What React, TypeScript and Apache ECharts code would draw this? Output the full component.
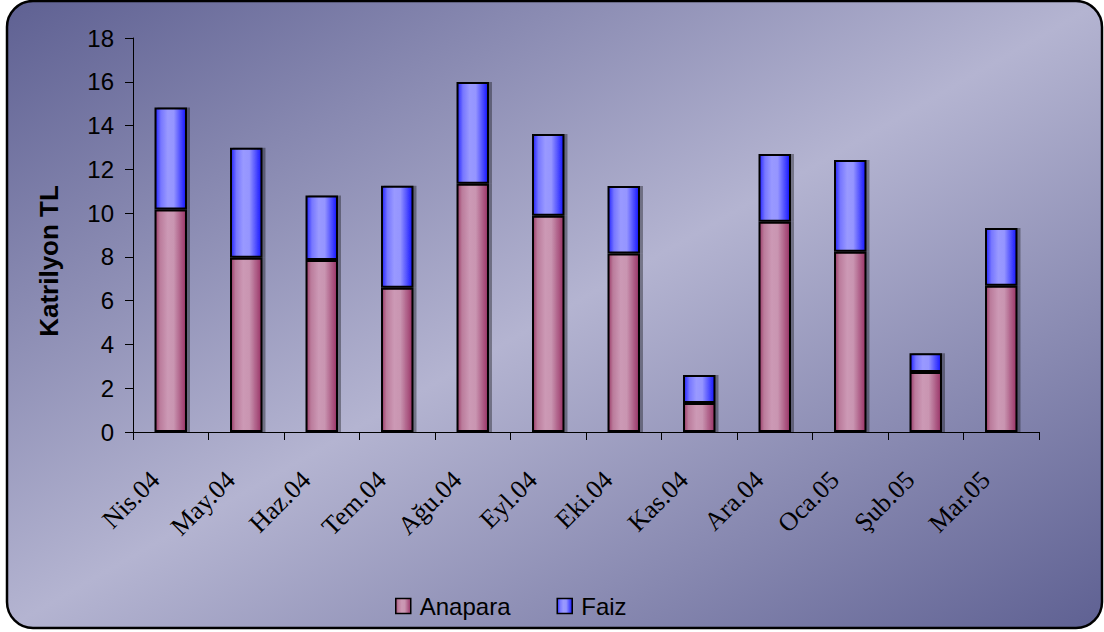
import React, { useEffect, useRef } from "react";
import * as echarts from "echarts";

const categories = ["Nis.04", "May.04", "Haz.04", "Tem.04", "Ağu.04", "Eyl.04", "Eki.04", "Kas.04", "Ara.04", "Oca.05", "Şub.05", "Mar.05"];
const anapara = [10.17, 7.96, 7.86, 6.59, 11.34, 9.88, 8.15, 1.32, 9.61, 8.24, 2.74, 6.68];
const faiz = [4.65, 5.03, 2.94, 4.66, 4.65, 3.73, 3.09, 1.28, 3.09, 4.19, 0.86, 2.64];
const yTicks = { min: 0, max: 18, interval: 2 };
const seriesNames = ["Anapara", "Faiz"];
const yAxisTitle = "Katrilyon TL";

const W = 1104;
const H = 632;

export default function App() {
  const ref = useRef<HTMLDivElement>(null);
  useEffect(() => {
    document.body.style.margin = "0";
    const chart = echarts.init(ref.current!, null, { renderer: "svg" });
    const pinkGrad = new echarts.graphic.LinearGradient(0, 0, 1, 0, [
      { offset: 0, color: "#9c3d69" },
      { offset: 0.15, color: "#bb7c9c" },
      { offset: 0.4, color: "#cc99b5" },
      { offset: 0.6, color: "#c995b1" },
      { offset: 1, color: "#993366" },
    ]);
    const blueGrad = new echarts.graphic.LinearGradient(0, 0, 1, 0, [
      { offset: 0, color: "#2525ff" },
      { offset: 0.18, color: "#7777ff" },
      { offset: 0.4, color: "#9999ff" },
      { offset: 0.6, color: "#9595ff" },
      { offset: 1, color: "#1414ff" },
    ]);
    const bgGrad = new echarts.graphic.LinearGradient(
      279.5, -160, 824.5, 792,
      [
        { offset: 0, color: "#5e6092" },
        { offset: 0.5, color: "#b4b4d1" },
        { offset: 1, color: "#5e6092" },
      ],
      true
    );
    const barStyle = (c: any) => ({
      color: c,
      borderColor: "#000",
      borderWidth: 2,
      shadowColor: "rgba(0,0,0,0.35)",
      shadowOffsetX: 3,
      shadowOffsetY: 0,
      shadowBlur: 0,
    });
    chart.setOption({
      animation: false,
      graphic: [
        {
          type: "rect",
          z: -10,
          silent: true,
          shape: { x: 7, y: 1, width: 1095, height: 627, r: 26 },
          style: { fill: bgGrad, stroke: "#000", lineWidth: 2.5 },
        },
        {
          type: "text",
          x: 49,
          y: 261,
          rotation: Math.PI / 2,
          silent: true,
          style: {
            text: yAxisTitle,
            fill: "#000",
            font: "bold 26px 'Liberation Sans', Arial, sans-serif",
            align: "center",
            verticalAlign: "middle",
          },
        },
      ],
      grid: { left: 133, right: W - 1039, top: 38, bottom: H - 432, containLabel: false },
      legend: {
        data: seriesNames,
        left: 390,
        top: 589,
        itemWidth: 15,
        itemHeight: 15,
        itemGap: 46,
        icon: "rect",
        textStyle: {
          color: "#000",
          fontSize: 24,
          fontFamily: "'Liberation Sans', Arial, sans-serif",
          padding: [0, 0, 0, 4],
        },
        itemStyle: { borderColor: "#000", borderWidth: 1.5 },
      },
      xAxis: {
        type: "category",
        data: categories,
        axisLine: { show: true, lineStyle: { color: "#000", width: 1 } },
        axisTick: { show: true, length: 8, lineStyle: { color: "#000" } },
        axisLabel: {
          rotate: 45,
          margin: 28,
          padding: [0, 22, 0, 0],
          color: "#000",
          fontSize: 26,
          fontFamily: "'Liberation Serif', 'Times New Roman', serif",
        },
      },
      yAxis: {
        type: "value",
        min: yTicks.min,
        max: yTicks.max,
        interval: yTicks.interval,
        axisLine: { show: true, lineStyle: { color: "#000", width: 1 } },
        axisTick: { show: true, length: 8, lineStyle: { color: "#000" } },
        splitLine: { show: false },
        axisLabel: {
          margin: 19,
          color: "#000",
          fontSize: 24,
          fontFamily: "'Liberation Sans', Arial, sans-serif",
        },
      },
      series: [
        {
          name: seriesNames[0],
          type: "bar",
          stack: "total",
          barWidth: "43%",
          data: anapara,
          itemStyle: barStyle(pinkGrad),
        },
        {
          name: seriesNames[1],
          type: "bar",
          stack: "total",
          barWidth: "43%",
          data: faiz,
          itemStyle: barStyle(blueGrad),
        },
      ],
    });
    return () => chart.dispose();
  }, []);
  return <div ref={ref} style={{ width: W, height: H }} />;
}
